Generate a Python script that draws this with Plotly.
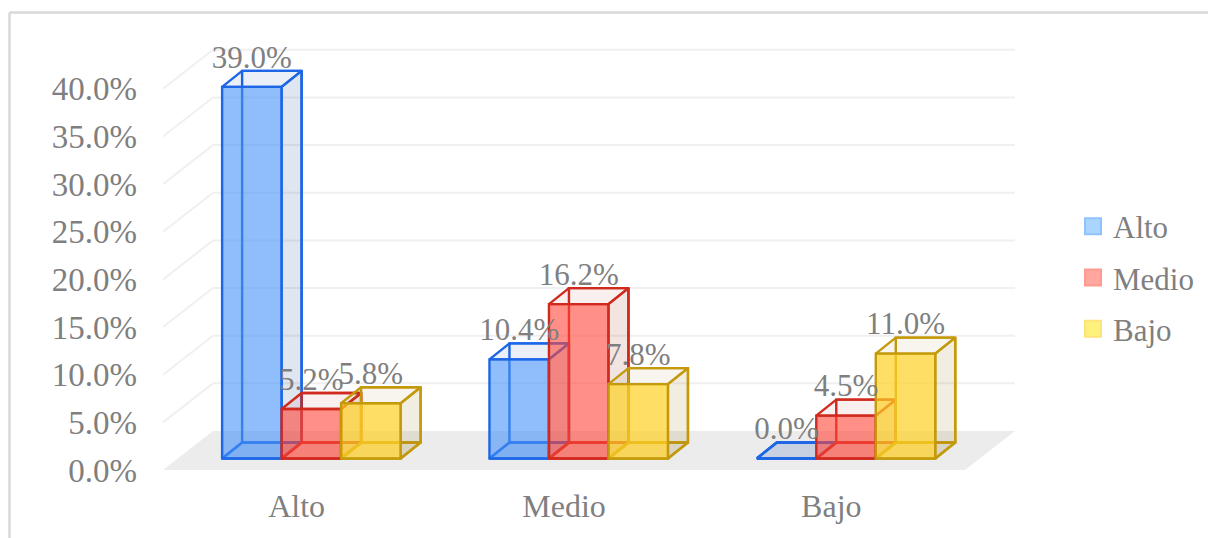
import plotly.graph_objects as go

categories = ["Alto", "Medio", "Bajo"]
series_names = ["Alto", "Medio", "Bajo"]
alto_values = [39.0, 10.4, 0.0]
medio_values = [5.2, 16.2, 4.5]
bajo_values = [5.8, 7.8, 11.0]
y_ticks = [0, 5, 10, 15, 20, 25, 30, 35, 40]

W, H = 1208, 538
L, R, T, B = 163, 193, 30, 68
PX_X = 267.33          # pixels per category
PX_Y = 9.53            # pixels per percentage point
XMIN = -0.5
XMAX = 2.5 + 50 / PX_X
YMAX = (H - B - T) / PX_Y

WALL_DX, WALL_DY = 50 / PX_X, 39 / PX_Y       # oblique depth of the floor
BAR_X0, BAR_Y0 = 14.7 / PX_X, 11.5 / PX_Y     # where the bars stand on the floor
BAR_DX, BAR_DY = 20 / PX_X, 16 / PX_Y         # depth of a bar
BAR_W = 59.5 / PX_X
LABEL_UP = 27 / PX_Y

FONT = "Liberation Serif"
TEXT = "#7f7f7f"
GRID = "#f0f0f0"
EDGE = 2.4

styles = [
    dict(line="#1d67e6", front="rgba(70,145,248,0.6)", side="rgba(0,50,130,0.12)",
         top="rgba(0,60,160,0.08)", key="#a9d5ff", keyline="#8fc2ff"),
    dict(line="#d02a1e", front="rgba(255,68,55,0.6)", side="rgba(150,30,10,0.12)",
         top="rgba(150,30,10,0.07)", key="#ffa79e", keyline="#ff9a90"),
    dict(line="#c49a0c", front="rgba(255,208,36,0.7)", side="rgba(140,110,10,0.12)",
         top="rgba(140,110,10,0.07)", key="#fff27c", keyline="#ffe27a"),
]
all_values = [alto_values, medio_values, bajo_values]

fig = go.Figure()

# floor
fig.add_trace(go.Scatter(
    x=[XMIN, XMIN + WALL_DX, XMAX, XMAX - WALL_DX, XMIN],
    y=[0, WALL_DY, WALL_DY, 0, 0],
    fill="toself", fillcolor="#ececec", mode="none",
    showlegend=False, hoverinfo="skip", zorder=0,
))

# back and side wall gridlines
gx, gy = [], []
for t in y_ticks:
    if t == 0:
        continue
    gx += [XMIN, XMIN + WALL_DX, XMAX, None]
    gy += [t, t + WALL_DY, t + WALL_DY, None]
fig.add_trace(go.Scatter(
    x=gx, y=gy, mode="lines", line=dict(color=GRID, width=2),
    showlegend=False, hoverinfo="skip", zorder=1,
))


def poly(xs, ys, store_x, store_y):
    store_x += xs + [xs[0], None]
    store_y += ys + [ys[0], None]


for i, (name, values, st) in enumerate(zip(series_names, all_values, styles)):
    offset = (i - 1) * BAR_W
    sx, sy, tx, ty, bx, by, kx, ky = [], [], [], [], [], [], [], []
    front_x = []
    for c, v in enumerate(values):
        xl = c + offset + BAR_X0 - BAR_W / 2
        xr = xl + BAR_W
        y0 = BAR_Y0
        y1 = BAR_Y0 + v
        front_x.append(xl + BAR_W / 2)
        # right side
        poly([xr, xr + BAR_DX, xr + BAR_DX, xr],
             [y0, y0 + BAR_DY, y1 + BAR_DY, y1], sx, sy)
        # top
        poly([xl, xl + BAR_DX, xr + BAR_DX, xr],
             [y1, y1 + BAR_DY, y1 + BAR_DY, y1], tx, ty)
        # bottom
        poly([xl, xl + BAR_DX, xr + BAR_DX, xr],
             [y0, y0 + BAR_DY, y0 + BAR_DY, y0], bx, by)
        # back edges
        poly([xl + BAR_DX, xl + BAR_DX, xr + BAR_DX, xr + BAR_DX],
             [y0 + BAR_DY, y1 + BAR_DY, y1 + BAR_DY, y0 + BAR_DY], kx, ky)
        poly([xl, xl + BAR_DX], [y0, y0 + BAR_DY], kx, ky)
    z = 2 + i * 2
    line = dict(color=st["line"], width=EDGE)
    fig.add_trace(go.Scatter(x=bx, y=by, fill="toself", fillcolor=st["top"], mode="lines",
                             line=line, showlegend=False, hoverinfo="skip", zorder=z))
    fig.add_trace(go.Scatter(x=kx, y=ky, mode="lines", line=line,
                             showlegend=False, hoverinfo="skip", zorder=z))
    fig.add_trace(go.Scatter(x=sx, y=sy, fill="toself", fillcolor=st["side"], mode="lines",
                             line=line, showlegend=False, hoverinfo="skip", zorder=z))
    fig.add_trace(go.Scatter(x=tx, y=ty, fill="toself", fillcolor=st["top"], mode="lines",
                             line=line, showlegend=False, hoverinfo="skip", zorder=z))
    fig.add_trace(go.Bar(
        x=front_x, y=values, base=BAR_Y0, width=BAR_W, name=name,
        marker=dict(color=st["front"], line=dict(color=st["line"], width=EDGE)),
        showlegend=False, zorder=z + 1,
        customdata=categories, hovertemplate="%{customdata}: %{y:.1f}%<extra>" + name + "</extra>",
    ))
    # data labels
    fig.add_trace(go.Scatter(
        x=front_x, y=[BAR_Y0 + v + LABEL_UP for v in values],
        text=[f"{v:.1f}%" for v in values], mode="text", textposition="middle center",
        textfont=dict(family=FONT, size=31, color=TEXT), cliponaxis=False,
        showlegend=False, hoverinfo="skip", zorder=20,
    ))
    # legend key
    fig.add_trace(go.Scatter(
        x=[None], y=[None], mode="markers", name=name, legendgroup=name,
        marker=dict(symbol="square", size=16, color=st["key"],
                    line=dict(color=st["keyline"], width=2)),
    ))


def px_x(p):
    return (p - L) / (W - L - R)


def px_y(p):
    return (H - B - p) / (H - T - B)


frame = dict(type="line", xref="paper", yref="paper", line=dict(color="#d9d9d9", width=2.5))
fig.update_layout(
    width=W, height=H,
    margin=dict(l=L, r=R, t=T, b=B, autoexpand=False),
    paper_bgcolor="white", plot_bgcolor="rgba(0,0,0,0)",
    font=dict(family=FONT, size=32, color=TEXT),
    barmode="overlay",
    xaxis=dict(range=[XMIN, XMAX], tickvals=[0, 1, 2], ticktext=categories,
               showgrid=False, zeroline=False, showline=False, ticks="",
               ticklabelstandoff=14, automargin=False,
               tickfont=dict(family=FONT, size=32, color=TEXT)),
    yaxis=dict(range=[0, YMAX], tickvals=y_ticks, ticktext=[f"{t:.1f}%" for t in y_ticks],
               showgrid=False, zeroline=False, showline=False, ticks="",
               ticklabelstandoff=25, automargin=False,
               tickfont=dict(family=FONT, size=33, color=TEXT)),
    legend=dict(x=px_x(1073), y=px_y(277.5), xanchor="left", yanchor="middle",
                tracegroupgap=8, itemsizing="trace", bgcolor="rgba(0,0,0,0)",
                font=dict(family=FONT, size=31, color=TEXT)),
    shapes=[
        dict(frame, x0=px_x(9.5), x1=px_x(9.5), y0=px_y(12.5), y1=px_y(538)),
        dict(frame, x0=px_x(9.5), x1=px_x(1208), y0=px_y(12.5), y1=px_y(12.5)),
    ],
)

fig.write_html("out.html", config={"displayModeBar": False},
               post_script="document.body.style.margin='0';")
